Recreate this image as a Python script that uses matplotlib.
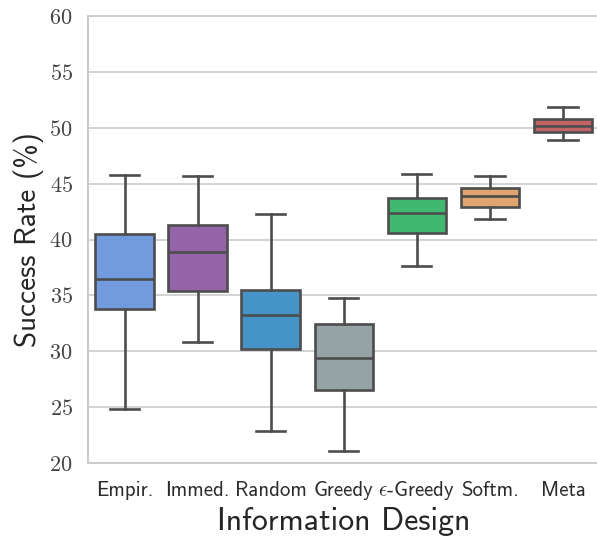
import matplotlib
matplotlib.use("Agg")
import matplotlib.pyplot as plt

plt.rcParams.update({
    "mathtext.fontset": "cm",
    "axes.formatter.use_mathtext": True,
})

# Success rate (%) per information design: whiskers, quartiles, median
designs = ["Empir.", "Immed.", "Random", "Greedy", r"$\epsilon$-Greedy", "Softm.", "Meta"]
whislo = [24.8, 30.8, 22.9, 21.1, 37.6, 41.8, 48.9]
q1 = [33.8, 35.4, 30.2, 26.5, 40.6, 42.9, 49.6]
med = [36.5, 38.9, 33.2, 29.4, 42.4, 43.9, 50.2]
q3 = [40.5, 41.3, 35.5, 32.4, 43.7, 44.6, 50.8]
whishi = [45.8, 45.7, 42.3, 34.8, 45.9, 45.7, 51.9]
colors = ["#729bdf", "#9563a8", "#4693c7", "#95a3a5", "#40b870", "#e2a46e", "#c26466"]

EDGE = "#4d4d4d"
GRID = "#cccccc"

fig = plt.figure(figsize=(5.97, 5.37), dpi=100)
ax = fig.add_axes([0.1474, 0.1378, 0.8568, 0.8324])

stats = [
    dict(label=d, whislo=lo, q1=a, med=m, q3=b, whishi=hi, fliers=[])
    for d, lo, a, m, b, hi in zip(designs, whislo, q1, med, q3, whishi)
]
bp = ax.bxp(stats, positions=range(len(stats)), widths=0.8, patch_artist=True,
            showfliers=False,
            boxprops=dict(edgecolor=EDGE, linewidth=1.9),
            medianprops=dict(color=EDGE, linewidth=1.9),
            whiskerprops=dict(color=EDGE, linewidth=1.9),
            capprops=dict(color=EDGE, linewidth=1.9),
            capwidths=0.4)
for patch, c in zip(bp["boxes"], colors):
    patch.set_facecolor(c)

ax.set_xlim(-0.5, len(designs) - 0.5)
ax.set_ylim(20, 60)
ax.set_yticks(range(20, 61, 5))
ax.set_xticks(range(len(designs)))
# baseline alignment keeps the epsilon label level with the plain ones
ax.set_xticklabels(designs, fontfamily="cmss10", fontsize=15, color="#2b2b2b",
                   va="baseline")
for lbl in ax.get_yticklabels():
    lbl.set_fontfamily("cmr10")
    lbl.set_fontsize(16)
    lbl.set_color("#444444")
ax.tick_params(axis="both", length=0)
ax.tick_params(axis="y", pad=11)
ax.tick_params(axis="x", pad=24)

ax.grid(True, axis="y", color=GRID, lw=1.2)
ax.set_axisbelow(True)
for s in ax.spines.values():
    s.set_color(GRID)
    s.set_linewidth(1.5)

ax.set_xlabel("Information Design", fontfamily="cmss10", fontsize=23,
              color="#262626", labelpad=3)
ax.set_ylabel("Success Rate (%)", fontfamily="cmss10", fontsize=21,
              color="#262626", labelpad=4)

fig.savefig("out.png", dpi=100)
